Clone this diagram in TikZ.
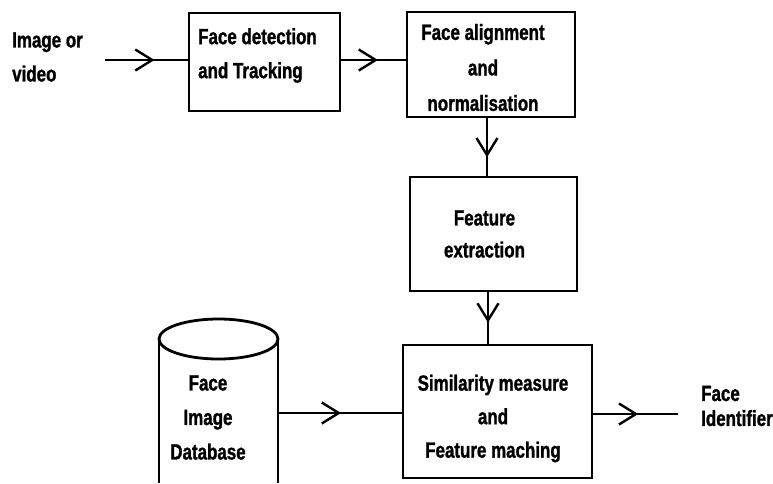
\documentclass[tikz,border=0pt]{standalone}
\usepackage{fontspec}
\newfontfamily\dfont{Liberation Sans}[FakeStretch=0.77,FakeBold=1.2]
\usetikzlibrary{arrows.meta,decorations.markings}
\tikzset{
  box/.style={draw, line width=2.8pt, inner sep=0pt},
  lbl/.style={font=\dfont\bfseries\fontsize{22}{34}\selectfont, inner sep=0pt},
  conn/.style={line width=2.4pt},
  vmark/.style={postaction={decorate, decoration={markings,
      mark=at position #1 with {\arrow{Straight Barb[length=17pt,width=21pt,line width=2.4pt]}}}}}
}
\begin{document}
\begin{tikzpicture}[x=1pt,y=-1pt]
\useasboundingbox (0,0) rectangle (773,483);
% boxes
\node[box, minimum width=151pt, minimum height=98pt] (b1) at (264.5,62) {};
\node[box, minimum width=168pt, minimum height=105pt] (b2) at (491,64.5) {};
\node[box, minimum width=167pt, minimum height=114pt] (b3) at (493.5,234) {};
\node[box, minimum width=189pt, minimum height=133pt] (b4) at (497.5,411.5) {};
% cylinder
\draw[line width=2.8pt] (218.5,339) ellipse [x radius=59.5, y radius=20];
\draw[line width=2.8pt] (159,339) -- (159,483);
\draw[line width=2.8pt] (278,339) -- (278,483);
\coordinate (dbr) at (278,413);
\coordinate (inp) at (105,60);
\coordinate (outp) at (678,414);
% texts
\node[lbl, align=left, anchor=west] (tin) at (12,57) {Image or\\video};
\node[lbl, align=left, anchor=west] (t1) at (198,55.5) {Face detection\\and Tracking};
\node[lbl, align=center, font=\dfont\bfseries\fontsize{22}{35.5}\selectfont] (t2) at (483,67.5) {Face alignment\\and\\normalisation};
\node[lbl, align=center, font=\dfont\bfseries\fontsize{22}{32}\selectfont] (t3) at (484.5,234) {Feature\\extraction};
\node[lbl, align=center, font=\dfont\bfseries\fontsize{22}{33.5}\selectfont] (t4) at (493,418.5) {Similarity measure\\and\\Feature maching};
\node[lbl, align=center, font=\dfont\bfseries\fontsize{22}{34.5}\selectfont] (tdb) at (208,417.5) {Face\\Image\\Database};
\node[lbl, align=left, anchor=west, font=\dfont\bfseries\fontsize{22}{25}\selectfont] (tout) at (701,406) {Face\\Identifier};
% connectors
\draw[conn, vmark=0.6] (inp) -- (inp -| b1.west);
\draw[conn, vmark=0.57] ([yshift=2pt]b1.east) -- ([yshift=2pt]b1.east -| b2.west);
\draw[conn, vmark=0.68] ([xshift=-4pt]b2.south) -- ([xshift=-4pt]b2.south |- b3.north);
\draw[conn, vmark=0.59] ([xshift=-5.5pt]b3.south) -- ([xshift=-5.5pt]b3.south |- b4.north);
\draw[conn, vmark=0.51] (dbr) -- (dbr -| b4.west);
\draw[conn, vmark=0.53] (outp -| b4.east) -- (outp);
\end{tikzpicture}
\end{document}
